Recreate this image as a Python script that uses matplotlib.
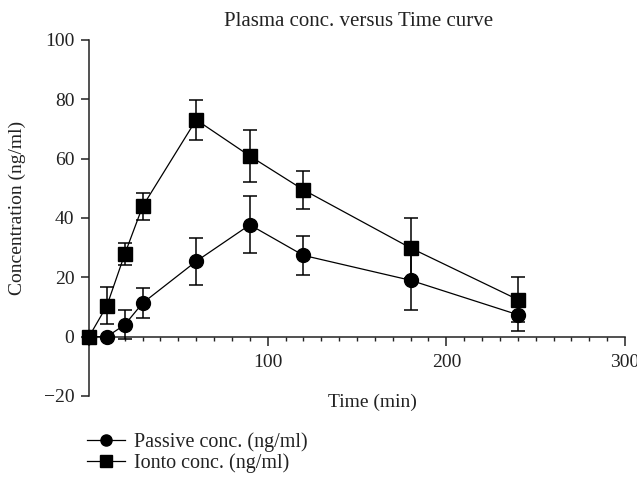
import matplotlib
matplotlib.use('Agg')
import matplotlib.pyplot as plt
from matplotlib.lines import Line2D
from matplotlib.ticker import MultipleLocator

time_min = [0, 10, 20, 30, 60, 90, 120, 180, 240]
passive = [0, 0, 4.0, 11.3, 25.4, 37.7, 27.4, 19.0, 7.4]
passive_err = [0, 0, 4.9, 5.1, 8.0, 9.6, 6.7, 10.0, 5.6]
ionto = [0, 10.4, 27.8, 43.9, 73.1, 60.9, 49.5, 29.9, 12.5]
ionto_err = [0, 6.2, 3.8, 4.6, 6.7, 8.8, 6.5, 10.2, 7.6]

x_ticks = [0, 100, 200, 300]
x_tick_labels = ['', '100', '200', '300']
y_ticks = [-20, 0, 20, 40, 60, 80, 100]
y_tick_labels = ['\u221220', '0', '20', '40', '60', '80', '100']

labels = ['Passive conc. (ng/ml)', 'Ionto conc. (ng/ml)']

plt.rcParams['font.family'] = ['Liberation Serif', 'DejaVu Serif']
FS = 14
txt = '#222222'

fig = plt.figure(figsize=(6.37, 4.78), dpi=100)
W, H = 637, 478
ax = fig.add_axes([89 / W, 1 - 396 / H, 536 / W, 356 / H])

ax.errorbar(time_min, passive, yerr=passive_err, fmt='-o', color='black',
            markersize=10, linewidth=0.9, elinewidth=1.1, capsize=4.7,
            capthick=1.1, clip_on=False, zorder=3)
ax.errorbar(time_min, ionto, yerr=ionto_err, fmt='-s', color='black',
            markersize=10, linewidth=0.9, elinewidth=1.1, capsize=4.7,
            capthick=1.1, clip_on=False, zorder=4)

ax.set_xlim(0, 300)
ax.set_ylim(-20, 100)
ax.spines['top'].set_visible(False)
ax.spines['right'].set_visible(False)
ax.spines['bottom'].set_position(('data', 0))
for s in ('left', 'bottom'):
    ax.spines[s].set_linewidth(1.1)
    ax.spines[s].set_color('#222222')

ax.set_xticks(x_ticks)
ax.set_xticklabels(x_tick_labels)
ax.xaxis.set_minor_locator(MultipleLocator(10))
ax.set_yticks(y_ticks)
ax.set_yticklabels(y_tick_labels)
ax.tick_params(axis='x', which='major', direction='out', length=6.5, width=1.1,
               pad=6, labelsize=FS, labelcolor=txt, color='#222222')
ax.tick_params(axis='x', which='minor', direction='out', length=3, width=1.0,
               color='#222222')
ax.tick_params(axis='y', which='major', direction='out', length=5.5, width=1.1,
               pad=5, labelsize=FS, labelcolor=txt, color='#222222')

fig.text(359 / W, 1 - 22 / H, 'Plasma conc. versus Time curve', ha='center',
         va='center', fontsize=15, color=txt)
fig.text(17 / W, 1 - 208 / H, 'Concentration (ng/ml)', rotation=90,
         ha='center', va='center', fontsize=FS, color=txt)
fig.text(372 / W, 1 - 402 / H, 'Time (min)', ha='center', va='center',
         fontsize=FS, color=txt)

handles = [Line2D([], [], color='black', marker='o', markersize=8, linewidth=0.9),
           Line2D([], [], color='black', marker='s', markersize=8, linewidth=0.9)]
fig.legend(handles, labels, loc='center left',
           bbox_to_anchor=(87 / W, 1 - 453 / H), frameon=False, fontsize=14.5,
           borderpad=0, borderaxespad=0, handlelength=1.9, handletextpad=0.45,
           labelspacing=0.05, labelcolor=txt)

fig.savefig('out.png', dpi=100)
